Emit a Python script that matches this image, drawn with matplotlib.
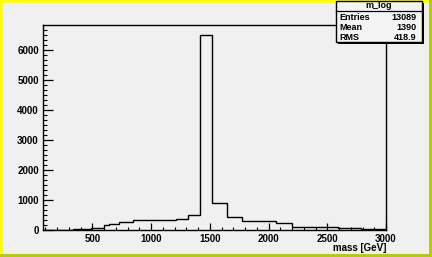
import matplotlib
matplotlib.use("Agg")
import matplotlib.pyplot as plt
from matplotlib.patches import Rectangle
from matplotlib.ticker import MultipleLocator
import numpy as np

# histogram data (bin edges in GeV, counts)
bin_edges = [80, 165, 335, 490, 600, 640, 724, 846, 982, 1215, 1314, 1419,
             1521, 1649, 1773, 1909, 2066, 2202, 2590, 2789, 3000]
counts = [0, 10, 30, 80, 150, 190, 250, 320, 340, 367, 490, 6507,
          890, 430, 315, 290, 230, 115, 60, 35]
hist_name = "m_log"
stat_labels = ["Entries", "Mean", "RMS"]
stat_values = ["13089", "1390", "418.9"]
x_label = "mass [GeV]"

W, H = 432, 257
fig = plt.figure(figsize=(W / 100, H / 100), dpi=100)
fig.patch.set_facecolor("#f0f0f0")

font = dict(family=["Liberation Sans", "DejaVu Sans"], weight="bold")

# yellow canvas border (bevel)
fig.add_artist(Rectangle((0, 0), 1, 1, transform=fig.transFigure,
                         fill=False, edgecolor="#ffff00", linewidth=4, zorder=0))
fig.add_artist(Rectangle((0, 0), 1, 3 / H, transform=fig.transFigure,
                         facecolor="#b8c818", edgecolor="none", zorder=1))
fig.add_artist(Rectangle((1 - 3 / W, 0), 3 / W, 1, transform=fig.transFigure,
                         facecolor="#b8c818", edgecolor="none", zorder=1))

ax = fig.add_axes([43 / W, 1 - 230 / H, (386 - 43) / W, (230 - 25) / H])
ax.set_facecolor("#f0f0f0")
ax.stairs(counts, bin_edges, color="black", linewidth=1.0)

ax.set_xlim(bin_edges[0], bin_edges[-1])
ax.set_ylim(0, max(counts) * 1.05)

for s in ["top", "right", "left", "bottom"]:
    ax.spines[s].set_linewidth(1.0)
    ax.spines[s].set_color("black")

ax.xaxis.set_major_locator(MultipleLocator(500))
ax.xaxis.set_minor_locator(MultipleLocator(100))
ax.yaxis.set_major_locator(MultipleLocator(1000))
ax.yaxis.set_minor_locator(MultipleLocator(1000 / 6))
ax.tick_params(axis="both", which="major", direction="in", width=0.9,
               color="black", labelsize=7, pad=3)
ax.tick_params(axis="both", which="minor", direction="in", width=0.8,
               color="black")
ax.tick_params(axis="y", which="major", length=7.2)
ax.tick_params(axis="y", which="minor", length=3)
ax.tick_params(axis="x", which="major", length=5)
ax.tick_params(axis="x", which="minor", length=2.3)
ax.set_xticks([500, 1000, 1500, 2000, 2500, 3000])
ax.set_xticklabels(["500", "1000", "1500", "2000", "2500", "3000"], **font, fontsize=7)
for lab in ax.get_yticklabels():
    lab.set_fontfamily(font["family"])
    lab.set_fontweight("bold")

fig.text(386 / W, 1 - 248 / H, x_label, ha="right", va="center", fontsize=7, **font)

# stats box
bx0, bx1, by0, by1 = 335.5, 421.5, 0.5, 41.5
fig.add_artist(Rectangle((bx0 / W + 2 / W, 1 - (by1 + 2) / H), (bx1 - bx0) / W, (by1 - by0) / H,
                         transform=fig.transFigure, facecolor="black", edgecolor="none", zorder=5))
fig.add_artist(Rectangle((bx0 / W, 1 - by1 / H), (bx1 - bx0) / W, (by1 - by0) / H,
                         transform=fig.transFigure, facecolor="#f4f4f4", edgecolor="black",
                         linewidth=1.0, zorder=6))
fig.add_artist(plt.Line2D([bx0 / W, bx1 / W], [1 - 10.8 / H, 1 - 10.8 / H],
                          transform=fig.transFigure, color="black", linewidth=0.9, zorder=7))
fig.text((bx0 + bx1) / 2 / W, 1 - 8.3 / H, hist_name, ha="center", va="baseline",
         fontsize=6.5, zorder=8, **font)
row_y = [19.5, 29.8, 40.0]
for lab, val, yy in zip(stat_labels, stat_values, row_y):
    fig.text(339 / W, 1 - yy / H, lab, ha="left", va="baseline", fontsize=6.5, zorder=8, **font)
    fig.text(416.5 / W, 1 - yy / H, val, ha="right", va="baseline", fontsize=6.5, zorder=8, **font)

fig.savefig("out.png", dpi=100, facecolor=fig.get_facecolor())
